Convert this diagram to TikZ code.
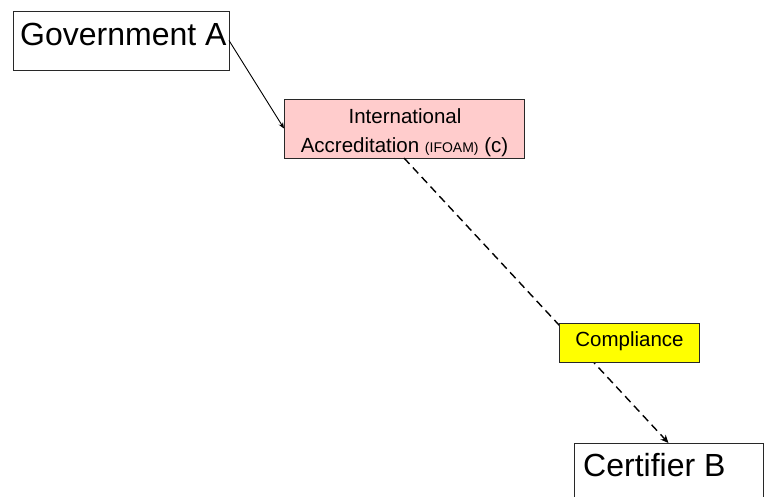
\documentclass[tikz,border=0pt]{standalone}
\usepackage{fontspec}
\setmainfont{Liberation Sans}
\usetikzlibrary{arrows.meta}
\definecolor{pinkfill}{RGB}{255,204,204}
\definecolor{yellowfill}{RGB}{255,255,0}
\definecolor{edge}{RGB}{40,40,40}
\begin{document}
\begin{tikzpicture}[x=1pt,y=-1pt,
  box/.style={draw=edge, line width=0.9pt, inner sep=0pt, outer sep=0pt},
  big/.style={font=\fontsize{32}{38}\selectfont, inner sep=0pt, anchor=base west},
  mid/.style={font=\fontsize{20.5}{24}\selectfont, inner sep=0pt, anchor=base},
  link/.style={line width=0.9pt, -{Stealth[length=6pt,width=5pt]}},
  dlink/.style={line width=1.4pt, dash pattern=on 8pt off 5pt, -{Stealth[length=8pt,width=7pt]}}]
\useasboundingbox (0,0) rectangle (771,497);
\clip (0,0) rectangle (771,497);

% boxes
\node[box, fill=white, minimum width=216pt, minimum height=59pt] (gov) at (121,40.5) {};
\node[box, fill=pinkfill, minimum width=240pt, minimum height=59pt] (intl) at (404,128.5) {};
\node[box, fill=white, minimum width=189pt, minimum height=80pt] (cert) at (668.5,483) {};

% connectors
\draw[link] (gov.east) -- (intl.west);
\draw[dlink] (intl.south) -- (cert.north);

% compliance box sits on the dashed line
\node[box, fill=yellowfill, minimum width=140pt, minimum height=39pt] (comp) at (629,342.5) {};

% texts
\node[big] (govtext) at (20,46) {Government A};
\node[mid] (intltext1) at (405,124) {International};
\node[mid] (intltext2) at (404.5,153) {Accreditation {\fontsize{14}{16}\selectfont(IFOAM)} (c)};
\node[mid] (comptext) at (629.5,346) {Compliance};
\node[big] (certtext) at (583,476) {Certifier B};
\end{tikzpicture}
\end{document}
